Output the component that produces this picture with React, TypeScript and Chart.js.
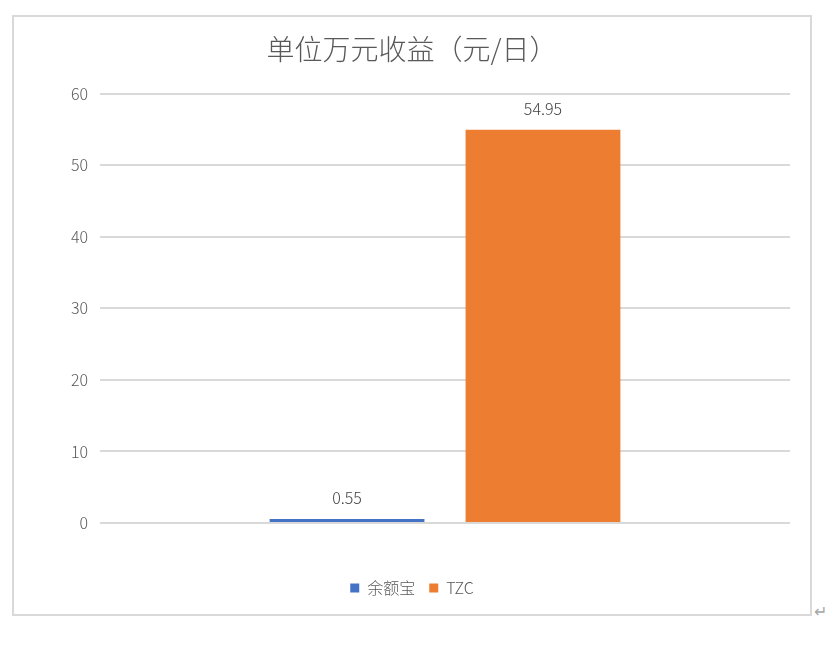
import React, { useEffect, useRef } from 'react';
import { Chart, registerables, Plugin } from 'chart.js';

Chart.register(...registerables);

const title = '单位万元收益（元/日）';
const categories = [''];
const seriesNames = ['余额宝', 'TZC'];
const seriesValues = [[0.55], [54.95]];
const seriesColors = ['#4472C4', '#ED7D31'];
const yTicks = [0, 10, 20, 30, 40, 50, 60];

const fontFamily = '"Noto Sans CJK SC", "Noto Sans", sans-serif';
const textColor = '#595959';

// values above each bar, like excel data labels
const valueLabels: Plugin<'bar'> = {
	id: 'valueLabels',
	afterDatasetsDraw(chart) {
		const ctx = chart.ctx;
		ctx.save();
		ctx.font = `300 16px ${fontFamily}`;
		ctx.fillStyle = '#404040';
		ctx.textAlign = 'center';
		ctx.textBaseline = 'bottom';
		chart.data.datasets.forEach((set, i) => {
			chart.getDatasetMeta(i).data.forEach((bar, j) => {
				const v = set.data[j] as number;
				ctx.fillText(v.toFixed(2), bar.x, bar.y - 13);
			});
		});
		ctx.restore();
	},
};

const App: React.FC = () => {
	const canvas = useRef<HTMLCanvasElement>(null!);

	useEffect(() => {
		const chart = new Chart(canvas.current, {
			type: 'bar',
			data: {
				labels: categories,
				datasets: seriesNames.map((name, i) => ({
					label: name,
					data: seriesValues[i],
					backgroundColor: seriesColors[i],
					categoryPercentage: 0.568,
					barPercentage: 0.79,
				})),
			},
			options: {
				animation: false,
				responsive: false,
				maintainAspectRatio: false,
				layout: {
					padding: { left: 20, right: 20, top: 0, bottom: 8 },
				},
				scales: {
					x: {
						grid: { display: false },
						border: { display: false },
						ticks: { display: false },
						afterFit: (axis) => { axis.height = 43; },
					},
					y: {
						min: 0,
						max: 60,
						afterBuildTicks: (axis) => {
							axis.ticks = yTicks.map(v => ({ value: v }));
						},
						afterFit: (axis) => { axis.width = 66; },
						border: { display: false },
						grid: { color: '#d9d9d9', lineWidth: 2, drawTicks: false },
						ticks: {
							padding: 12,
							color: textColor,
							font: { size: 16, family: fontFamily, weight: 300 },
						},
					},
				},
				plugins: {
					title: {
						display: true,
						text: title,
						color: textColor,
						font: { size: 28, family: fontFamily, weight: 300 },
						padding: { top: 16, bottom: 27 },
					},
					legend: {
						position: 'bottom',
						labels: {
							boxWidth: 9,
							boxHeight: 9,
							padding: 14,
							color: textColor,
							font: { size: 16, family: fontFamily, weight: 300 },
						},
					},
					tooltip: { enabled: false },
				},
			},
			plugins: [valueLabels],
		});

		return () => {
			chart.destroy();
		};
	}, []);

	return <div style={{ position: 'absolute', left: 0, top: 0, width: 839, height: 645, background: '#fff' }}>
		<div style={{ position: 'absolute', left: 12, top: 15, width: 796, height: 597, border: '2px solid #d9d9d9' }}>
			<canvas ref={canvas} width={796} height={597} style={{ display: 'block' }}></canvas>
		</div>
		<div style={{ position: 'absolute', left: 814, top: 598, color: '#a6a6a6', fontSize: 16, fontFamily }}>↵</div>
	</div>;
};

export default App;
